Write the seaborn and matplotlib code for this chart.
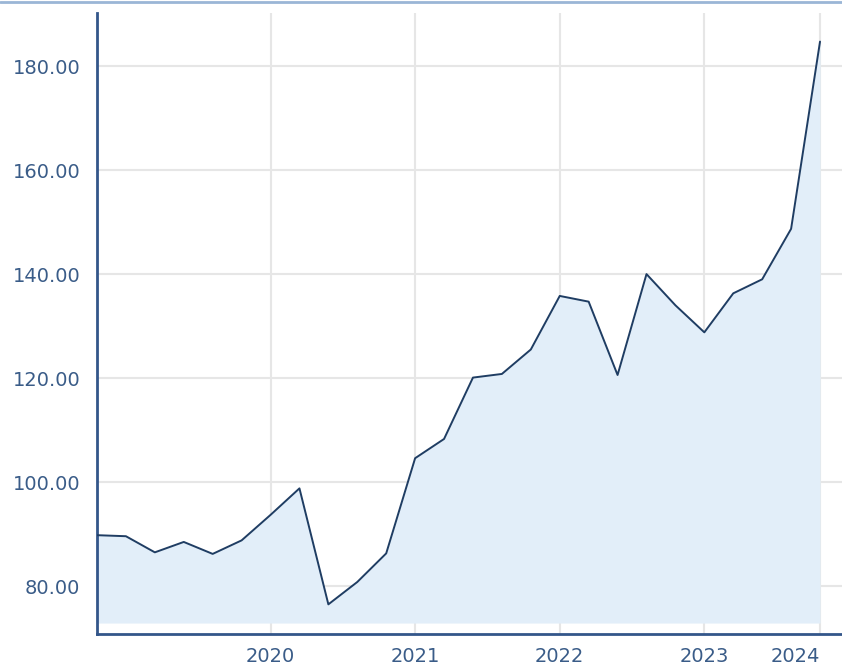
import numpy as np
import pandas as pd
import matplotlib
matplotlib.use("Agg")
import matplotlib.pyplot as plt
import seaborn as sns
from matplotlib.lines import Line2D

# values, one point per period
values = [89.8, 89.6, 86.5, 88.5, 86.2, 88.8, 93.7, 98.8, 76.5, 80.8,
          86.3, 104.6, 108.3, 120.1, 120.8, 125.5, 135.8, 134.7, 120.6, 140.0,
          134.0, 128.8, 136.3, 139.0, 148.7, 184.7]
year_labels = ["2020", "2021", "2022", "2023", "2024"]
year_index = [6, 11, 16, 21, 25]   # period where each year label sits
y_ticks = [80, 100, 120, 140, 160, 180]

df = pd.DataFrame({"period": np.arange(len(values)), "value": values})

sns.set_style("white")
plt.rcParams["font.family"] = ["DejaVu Sans"]

label_col = "#3a5c88"
spine_col = "#33568a"
line_col = "#1f3d63"
fill_col = "#e2eef9"
grid_col = "#e6e6e6"

fig = plt.figure(figsize=(8.42, 6.64), dpi=100)
ax = fig.add_axes([97 / 842, 30 / 664, 745 / 842, 621 / 664])

ax.fill_between(df["period"], 72.9, df["value"], color=fill_col, lw=0, zorder=1)
sns.lineplot(data=df, x="period", y="value", ax=ax, color=line_col, lw=1.4, zorder=3)

ax.set_xlim(0, 25.76)
ax.set_ylim(70.8, 190.2)
ax.set_xticks(year_index)
ax.set_xticklabels(year_labels)
ax.set_yticks(y_ticks)
ax.set_yticklabels([f"{v:.2f}" for v in y_ticks])
ax.set_xlabel("")
ax.set_ylabel("")

ax.grid(True, color=grid_col, lw=1.5, zorder=0)
ax.set_axisbelow(True)
ax.tick_params(axis="both", length=0, labelsize=14, colors=label_col)
ax.tick_params(axis="y", pad=12)
ax.tick_params(axis="x", pad=9)
# last year label is pulled inside the plot edge
ax.get_xticklabels()[-1].set_horizontalalignment("right")

for side in ["top", "right"]:
    ax.spines[side].set_visible(False)
for side in ["left", "bottom"]:
    ax.spines[side].set_color(spine_col)
    ax.spines[side].set_linewidth(2)

# thin light border along the top edge
fig.add_artist(Line2D([0, 1], [1 - 1.5 / 664] * 2, transform=fig.transFigure,
                      color="#9ab6d6", lw=2))

fig.savefig("out.png", dpi=100, facecolor="white")
